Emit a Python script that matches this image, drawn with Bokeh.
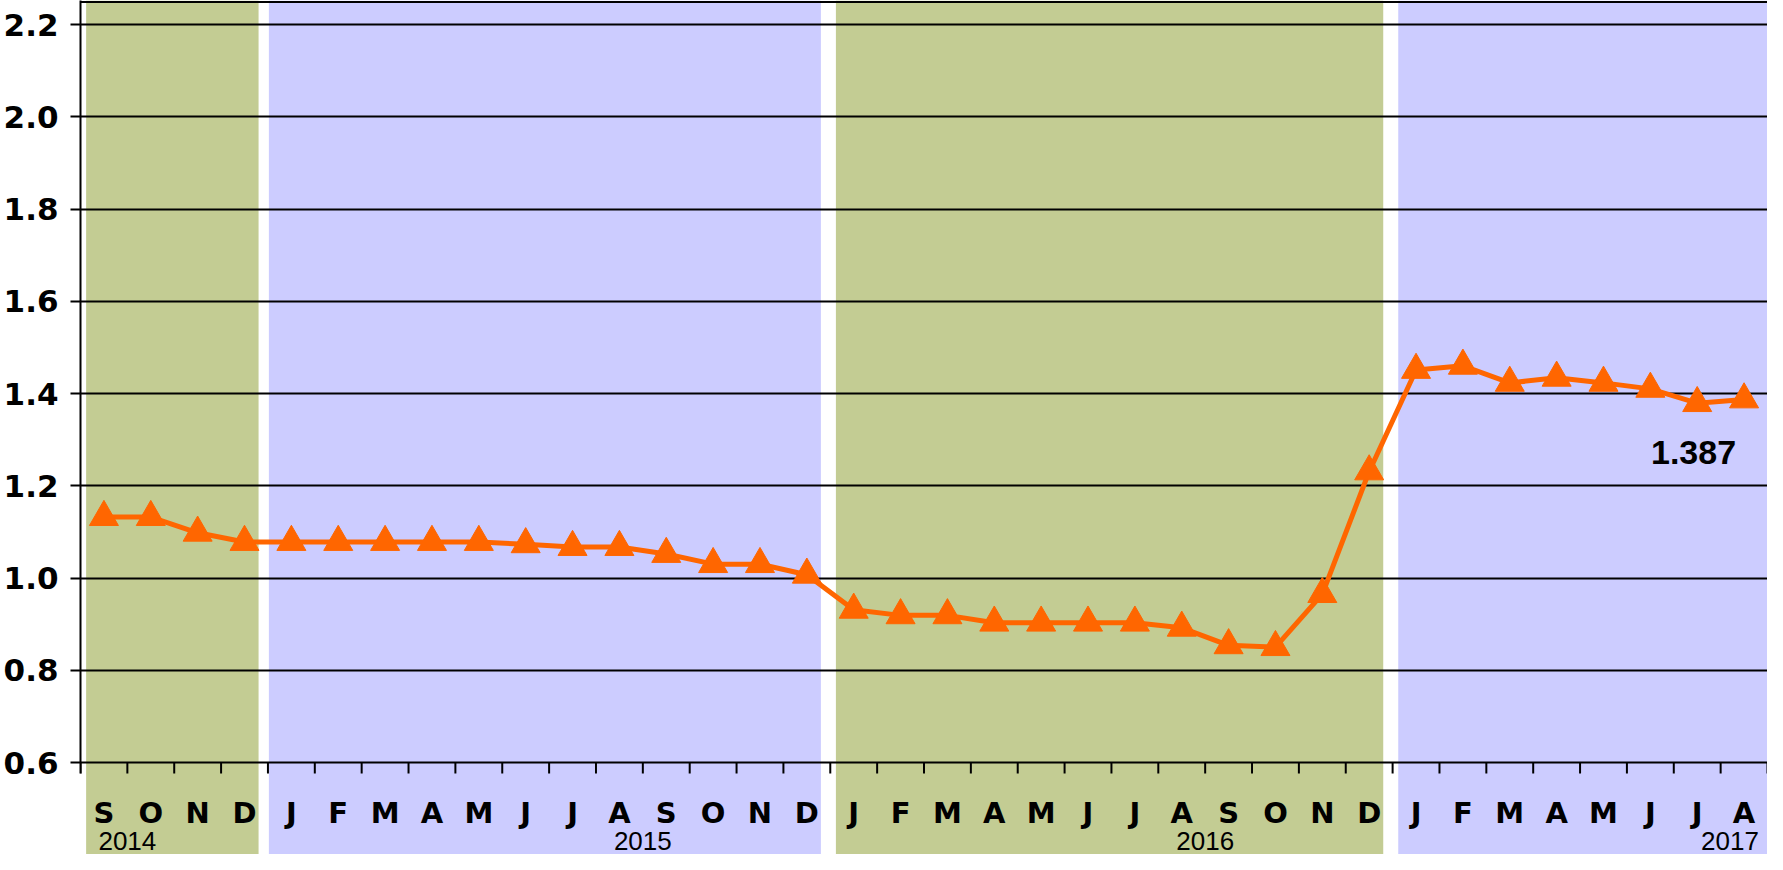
import math
from bokeh.plotting import figure
from bokeh.models import Range1d, FixedTicker, PrintfTickFormatter, Span
from bokeh.core.properties import value
from bokeh.embed import file_html
from bokeh.resources import INLINE

# ---------------- data ----------------
years = [2014, 2015, 2016, 2017]
months_per_year = [4, 12, 12, 8]
month_letters = ["S", "O", "N", "D",
                 "J", "F", "M", "A", "M", "J", "J", "A", "S", "O", "N", "D",
                 "J", "F", "M", "A", "M", "J", "J", "A", "S", "O", "N", "D",
                 "J", "F", "M", "A", "M", "J", "J", "A"]
values_2014 = [1.132, 1.132, 1.098, 1.078]
values_2015 = [1.078, 1.078, 1.078, 1.078, 1.078, 1.073, 1.067, 1.067, 1.052, 1.030, 1.030, 1.007]
values_2016 = [0.931, 0.919, 0.919, 0.903, 0.903, 0.903, 0.903, 0.892, 0.854, 0.850, 0.965, 1.231]
values_2017 = [1.451, 1.460, 1.423, 1.434, 1.423, 1.410, 1.379, 1.387]
y_ticks = [0.6, 0.8, 1.0, 1.2, 1.4, 1.6, 1.8, 2.0, 2.2]
last_label = "1.387"

# ---------------- layout / style ----------------
W, H = 1767, 854
LEFT = 78
TOP_GAP = 24          # px from top of frame to top tick
BASE_PX = 762         # px from top of frame to bottom tick (0.6)
k = (BASE_PX - TOP_GAP) / (y_ticks[-1] - y_ticks[0])
ymax = y_ticks[-1] + TOP_GAP / k
ymin = y_ticks[0] - (H - BASE_PX) / k
base = y_ticks[0]

GREEN = "#C3CC93"
BLUE = "#CCCCFF"
ORANGE = "#FF6600"
band_colors = [GREEN, BLUE, GREEN, BLUE]
year_label_x = [1.0, 12.0, 24.0, 35.2]   # label anchor positions (month units)
PAD_LO, PAD_HI = 0.12, 0.2

values = values_2014 + values_2015 + values_2016 + values_2017
n = len(values)
xc = [i + 0.5 for i in range(n)]
bounds_x = list(range(n + 1))

# band extents
lefts, rights = [], []
start = 0
for i, m in enumerate(months_per_year):
    end = start + m
    lefts.append(start + PAD_LO)
    rights.append(end - (PAD_HI if i < len(months_per_year) - 1 else 0))
    start = end
lefts[1] = lefts[1] - PAD_LO + 0.02

p = figure(width=W, height=H, output_backend="svg", toolbar_location=None,
           x_range=Range1d(0, n), y_range=Range1d(ymin, ymax),
           x_axis_location=None, min_border_left=LEFT, min_border_right=0,
           min_border_top=0, min_border_bottom=0)
p.outline_line_color = None
p.background_fill_color = "white"
p.border_fill_color = "white"
p.xgrid.visible = False

# background year bands
p.quad(left=lefts, right=rights, top=[ymax] * 4, bottom=[ymin] * 4,
       fill_color=band_colors, line_color=None, level="image")

# y grid
p.ygrid.ticker = FixedTicker(ticks=y_ticks)
p.ygrid.grid_line_color = "black"
p.ygrid.grid_line_width = 2
p.ygrid.grid_line_alpha = 1.0

# y axis
ya = p.yaxis[0]
ya.ticker = FixedTicker(ticks=y_ticks)
ya.formatter = PrintfTickFormatter(format="%.1f")
ya.bounds = (base - 11 / k, ymax)
ya.axis_line_color = "black"
ya.axis_line_width = 2
ya.major_tick_line_color = "black"
ya.major_tick_line_width = 2
ya.major_tick_out = 10
ya.major_tick_in = 0
ya.minor_tick_line_color = None
ya.major_label_standoff = 12
ya.major_label_text_font = "DejaVu Sans"
ya.major_label_text_font_style = "bold"
ya.major_label_text_font_size = "31px"
ya.major_label_text_color = "black"

# top frame line
p.add_layout(Span(location=ymax - 1.5 / k, dimension="width",
                  line_color="black", line_width=2))

# month ticks below the base line
p.ray(x=bounds_x, y=[base] * len(bounds_x), length=11, length_units="screen",
      angle=-math.pi / 2, line_color="black", line_width=2)

# month letters
p.text(x=xc, y=[base] * n, text=month_letters, text_font=value("DejaVu Sans"),
       text_font_style="bold", text_font_size="29px", text_color="black",
       text_align="center", text_baseline="middle", y_offset=50)

# year labels
p.text(x=year_label_x, y=[base] * len(years), text=[str(y) for y in years],
       text_font=value("Liberation Sans"), text_font_size="26px", text_color="black",
       text_align="center", text_baseline="middle", y_offset=78)

# data series
p.line(xc, values, line_color=ORANGE, line_width=5)
p.scatter(xc, values, marker="triangle", size=29, fill_color=ORANGE, line_color=ORANGE)

# last value label
p.text(x=[xc[-1]], y=[values[-1]], text=[last_label], text_font=value("Liberation Sans"),
       text_font_style="bold", text_font_size="34px", text_color="black",
       text_align="right", text_baseline="middle", x_offset=-8, y_offset=53)

open("out.html", "w").write(file_html(p, INLINE))
